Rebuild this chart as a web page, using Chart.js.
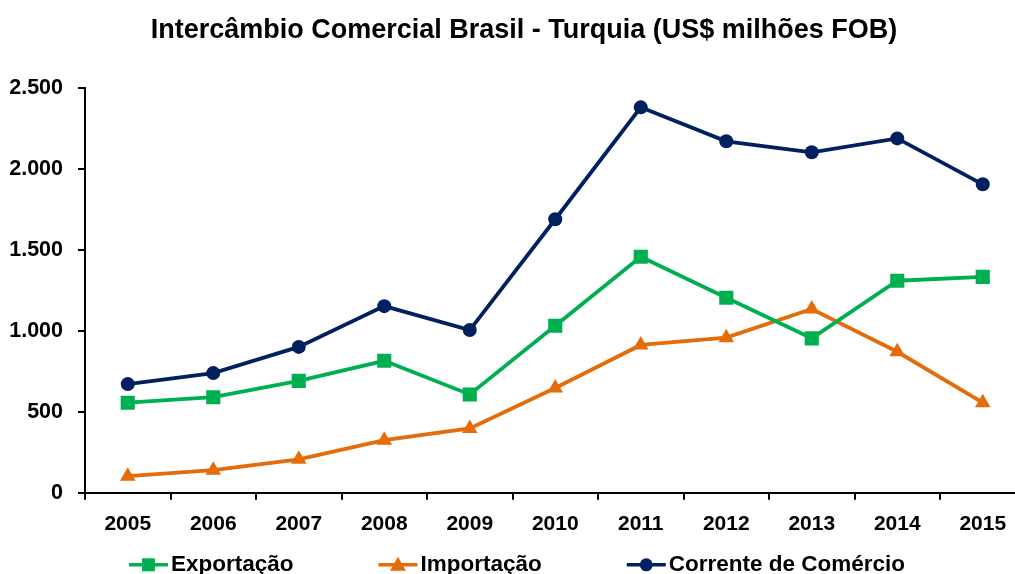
<!DOCTYPE html>
<html>
<head>
<meta charset="utf-8">
<script src="https://cdn.jsdelivr.net/npm/chart.js@4"></script>
<style>
  html, body { margin: 0; padding: 0; overflow: hidden; background: #fff; }
</style>
</head>
<body>
<canvas id="tradeChart" width="1048" height="600"></canvas>
<script>
const years = ['2005','2006','2007','2008','2009','2010','2011','2012','2013','2014','2015']
const exportacao = [557, 591, 692, 816, 608, 1033, 1459, 1206, 955, 1311, 1335]
const importacao = [103, 140, 207, 325, 398, 648, 914, 959, 1136, 872, 557]
const corrente = [672, 740, 902, 1154, 1006, 1691, 2383, 2173, 2105, 2191, 1907]
const yTicks = [0, 500, 1000, 1500, 2000, 2500]

const font = 'Liberation Sans, Arial, sans-serif'
const fmt = v => String(v).replace(/\B(?=(\d{3})+(?!\d))/g, '.')

// legend drawn by hand: line with the marker on it, wide gaps between items
const lineLegend = {
  id: 'lineLegend',
  afterLayout(chart){
    // y labels hang out past the narrow axis box, don't let them get clipped
    chart.scales.y.left = 0
  },
  afterDraw(chart){
    const g = chart.ctx
    const y = chart.chartArea.bottom + 72
    g.save()
    g.font = 'bold 22.5px ' + font
    g.textBaseline = 'middle'
    const items = chart.data.datasets.map(ds => ({ ds, w: 42 + g.measureText(ds.label).width }))
    const gap = 85
    const total = items.reduce((s, it) => s + it.w, 0) + gap * (items.length - 1)
    let x = 517 - total / 2
    items.forEach(({ ds, w }) => {
      g.strokeStyle = ds.borderColor; g.fillStyle = ds.borderColor; g.lineWidth = 3.5
      g.beginPath(); g.moveTo(x, y); g.lineTo(x + 39, y); g.stroke()
      g.beginPath()
      if(ds.pointStyle === 'rect') g.rect(x + 13, y - 6.5, 13, 13)
      else if(ds.pointStyle === 'circle') g.arc(x + 19.5, y, 6.5, 0, Math.PI * 2)
      else { g.moveTo(x + 19.5, y - 8); g.lineTo(x + 27.5, y + 6); g.lineTo(x + 11.5, y + 6); g.closePath() }
      g.fill()
      g.fillStyle = '#000'
      g.fillText(ds.label, x + 42, y)
      x += w + gap
    })
    g.restore()
  }
}

const ctx = document.getElementById('tradeChart')
new Chart(ctx, {
  type: 'line',
  data: {
    labels: years,
    datasets: [{
      label: 'Exportação',
      data: exportacao,
      borderColor: '#00B050',
      backgroundColor: '#00B050',
      pointStyle: 'rect',
      pointRadius: 10
    }, {
      label: 'Importação',
      data: importacao,
      borderColor: '#E46C0A',
      backgroundColor: '#E46C0A',
      pointStyle: 'triangle',
      pointRadius: 9
    }, {
      label: 'Corrente de Comércio',
      data: corrente,
      borderColor: '#002060',
      backgroundColor: '#002060',
      pointStyle: 'circle',
      pointRadius: 7
    }]
  },
  options: {
    responsive: false,
    animation: false,
    layout: { padding: { left: 22.5, right: 22.5, top: 0, bottom: 51 } },
    elements: {
      line: { borderWidth: 3.8, tension: 0 },
      point: { borderWidth: 0 }
    },
    plugins: {
      title: {
        display: true,
        text: 'Intercâmbio Comercial Brasil - Turquia (US$ milhões FOB)',
        color: '#000',
        font: { family: font, size: 27, weight: 'bold' },
        padding: { top: 14, bottom: 42 }
      },
      legend: { display: false },
      tooltip: { enabled: false }
    },
    scales: {
      x: {
        offset: true,
        border: { color: '#000', width: 2 },
        grid: { offset: true, drawOnChartArea: false, tickLength: 7, color: '#000', lineWidth: 2 },
        ticks: { color: '#000', padding: 12, font: { family: font, size: 21, weight: 'bold' } }
      },
      y: {
        min: 0,
        max: 2500,
        afterBuildTicks: axis => { axis.ticks = yTicks.map(v => ({ value: v })) },
        afterFit: axis => { axis.width = 62.5 },
        border: { color: '#000', width: 2 },
        grid: { drawOnChartArea: false, tickLength: 7, color: '#000', lineWidth: 2 },
        ticks: { color: '#000', padding: 15, callback: v => fmt(v), font: { family: font, size: 21.5, weight: 'bold' } }
      }
    }
  },
  plugins: [lineLegend]
})
</script>
</body>
</html>
